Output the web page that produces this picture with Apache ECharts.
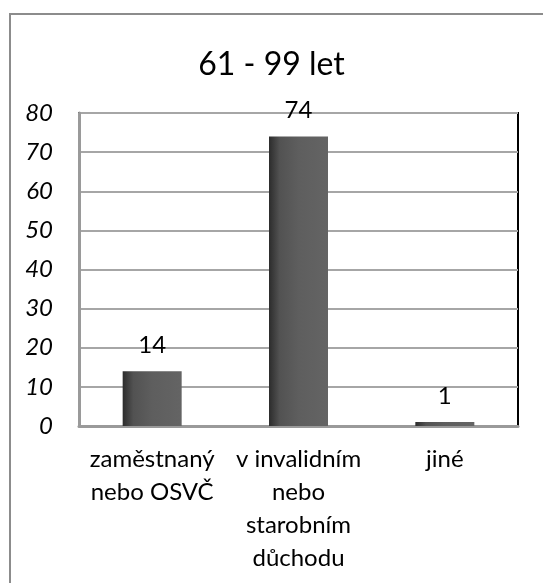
<!DOCTYPE html>
<html>
<head>
<meta charset="utf-8">
<script src="https://cdn.jsdelivr.net/npm/echarts@6/dist/echarts.min.js"></script>
<style>
  html, body { margin: 0; padding: 0; background: #fff; }
  #chart { width: 543px; height: 583px; }
</style>
</head>
<body>
<div id="chart"></div>
<script>
var titleText = '61 - 99 let';
var categories = ['zaměstnaný\nnebo OSVČ', 'v invalidním\nnebo\nstarobním\ndůchodu', 'jiné'];
var values = [14, 74, 1];
var yTicks = { min: 0, max: 80, interval: 10 };

var font = 'Lato, "Open Sans", sans-serif';

var chart = echarts.init(document.getElementById('chart'));

// dark edge on the left of each bar, like the original shading
var barColor = new echarts.graphic.LinearGradient(0, 0, 1, 0, [
    { offset: 0, color: '#2c2c2c' },
    { offset: 0.18, color: '#525252' },
    { offset: 0.5, color: '#5e5e5e' },
    { offset: 1, color: '#646464' }
]);

chart.setOption({
    backgroundColor: '#fff',
    animation: false,
    title: {
        text: titleText,
        left: 'center',
        top: 44,
        textStyle: { fontFamily: font, fontSize: 32, fontWeight: 'normal', color: '#000' }
    },
    graphic: [{
        type: 'rect',
        shape: { x: 10, y: 14, width: 600, height: 620 },
        style: { fill: 'none', stroke: '#8c8c8c', lineWidth: 2 },
        z: 0
    }],
    grid: {
        left: 79, right: 25, top: 113, bottom: 157,
        show: true,
        borderColor: '#000',
        borderWidth: 2,
        backgroundColor: 'transparent'
    },
    xAxis: {
        type: 'category',
        data: categories,
        axisLine: { lineStyle: { color: '#9a9a9a', width: 3 } },
        axisTick: { show: false },
        axisLabel: {
            fontFamily: font, fontSize: 24, color: '#000',
            lineHeight: 33, margin: 17, interval: 0
        }
    },
    yAxis: {
        type: 'value',
        min: yTicks.min,
        max: yTicks.max,
        interval: yTicks.interval,
        axisLine: { show: true, lineStyle: { color: '#9a9a9a', width: 3 } },
        axisTick: { show: false },
        splitLine: { lineStyle: { color: '#a6a6a6', width: 2 } },
        axisLabel: {
            fontFamily: font, fontSize: 24, fontStyle: 'italic', color: '#000', margin: 26
        }
    },
    series: [{
        type: 'bar',
        data: values,
        barWidth: 59,
        itemStyle: { color: barColor },
        label: {
            show: true,
            position: 'top',
            distance: 14,
            fontFamily: font,
            fontSize: 24,
            color: '#000'
        }
    }]
});
</script>
</body>
</html>
